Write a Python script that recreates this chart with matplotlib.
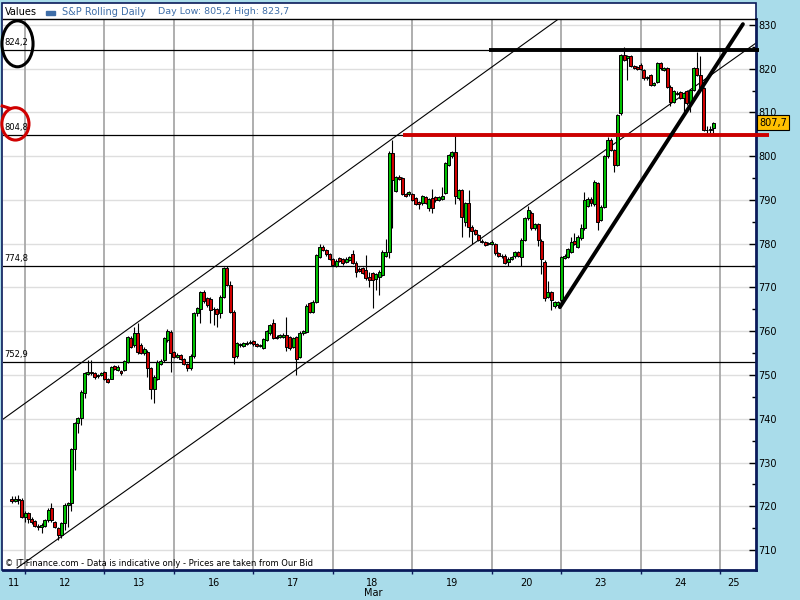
import numpy as np
import matplotlib.pyplot as plt
from matplotlib.patches import Rectangle, Ellipse

# S&P Rolling Daily, hourly candles 11 -> 24 March
# hour index of first candle (day 12 opens at hour 0)
first_hour = -4

opens = [
    # 11
    721.6, 721.3, 721.6, 721.5,
    # 12
    717.6, 718.4, 717.2, 716.6, 715.5, 715.3, 715.6, 716.8, 719.5, 716.3, 715.0, 713.4,
    716.2, 720.4, 720.7, 733.0, 739.0, 740.2, 746.0, 750.3, 750.6, 750.4, 749.8, 750.1,
    # 13
    750.6, 749.0, 749.2, 752.1, 751.2, 750.9, 751.2, 753.0, 758.5, 756.8, 759.6, 756.9,
    755.0, 755.3, 751.5, 746.7, 749.2, 752.5, 753.4, 758.0, 759.8,
    # 16
    755.2, 754.2, 754.6, 753.7, 752.5, 751.6, 754.3, 764.1, 765.0, 769.0, 767.5, 767.4,
    765.0, 765.0, 764.1, 767.9, 774.4, 770.6, 764.5, 754.3, 756.8, 756.7, 757.2, 757.3,
    # 17
    757.8, 757.0, 756.7, 756.2, 758.0, 759.5, 761.9, 758.8, 758.8, 758.8, 759.1, 758.6,
    756.4, 758.7, 754.2, 759.5, 759.8, 766.5, 764.5, 766.8, 777.0, 779.3, 778.6, 777.6,
    # 18
    776.5, 774.9, 776.7, 776.4, 775.8, 776.3, 777.6, 775.7, 774.3, 774.4, 774.0, 772.3,
    773.2, 771.9, 772.5, 772.9, 777.2, 778.0, 800.7, 792.1, 795.2, 795.0, 791.3, 791.3,
    # 19
    791.4, 790.4, 789.5, 789.2, 790.6, 788.1, 790.5, 790.6, 790.0, 790.2, 791.7, 798.0,
    800.0, 801.0, 790.4, 792.3, 785.0, 789.4, 783.9, 783.1, 781.9, 780.7, 780.4, 779.9,
    # 20
    780.0, 779.9, 777.8, 777.3, 777.3, 775.9, 776.5, 777.1, 778.0, 777.0, 780.9, 785.8,
    787.1, 783.5, 784.5, 780.7, 775.9, 767.9, 769.0, 765.8, 766.0,
    # 23
    767.1, 776.7, 777.0, 778.2, 780.6, 779.3, 781.2, 783.5, 788.6, 790.3, 789.0, 793.8,
    785.4, 788.5, 800.0, 803.7, 801.4, 798.0, 809.8, 823.1, 822.5, 822.9, 820.6, 820.3,
    # 24
    820.9, 819.6, 817.8, 818.6, 816.3, 817.0, 821.2, 819.7, 820.1, 815.9, 812.5, 814.5,
    814.6, 813.3, 814.8, 812.1, 815.1, 820.1, 818.6, 815.5, 806.1, 805.9, 806.4,
]
highs = [
    722.3, 722.3, 722.6, 721.9,
    718.9, 718.7, 717.5, 716.9, 715.9, 716.1, 717.1, 719.5, 720.8, 716.6, 715.3, 716.5,
    720.8, 721.0, 733.3, 739.3, 740.5, 746.5, 750.7, 753.4, 753.4, 750.7, 750.3, 750.8,
    750.9, 749.3, 752.1, 752.4, 752.2, 751.2, 753.5, 759.0, 758.9, 761.0, 761.9, 757.3,
    756.4, 755.7, 751.8, 750.0, 753.4, 753.6, 758.8, 760.6, 760.2,
    755.6, 755.0, 754.9, 754.0, 752.8, 754.7, 764.4, 765.6, 769.3, 769.5, 767.9, 767.8,
    765.5, 765.4, 768.2, 774.7, 775.0, 771.5, 764.8, 757.6, 757.3, 757.6, 757.7, 757.9,
    758.1, 757.3, 757.2, 758.5, 760.3, 761.7, 762.8, 759.1, 759.4, 759.5, 763.2, 758.9,
    758.8, 759.0, 760.0, 760.3, 766.3, 766.8, 767.1, 777.7, 780.0, 779.6, 778.9, 777.9,
    776.8, 776.4, 777.0, 776.7, 776.9, 777.2, 778.6, 776.0, 774.6, 774.7, 777.4, 773.5,
    773.5, 773.3, 773.9, 778.5, 781.0, 801.1, 803.7, 795.5, 795.6, 795.3, 791.6, 792.1,
    791.7, 790.7, 789.8, 791.1, 790.9, 790.5, 792.5, 790.9, 791.0, 793.0, 798.7, 800.6,
    801.3, 804.9, 792.6, 792.6, 789.5, 792.3, 784.2, 783.4, 782.2, 781.0, 780.7, 780.4,
    780.8, 780.2, 778.1, 777.6, 777.6, 776.9, 777.3, 778.3, 778.3, 781.2, 786.1, 788.6,
    787.4, 784.8, 784.8, 781.0, 776.2, 771.5, 769.3, 766.9, 766.9,
    777.3, 777.6, 779.0, 781.5, 782.5, 781.9, 784.5, 791.9, 790.6, 790.6, 794.5, 794.1,
    788.8, 800.3, 804.5, 804.1, 801.7, 809.7, 823.4, 825.0, 823.1, 823.2, 820.9, 820.6,
    821.2, 819.9, 818.4, 818.9, 817.0, 821.5, 821.5, 820.4, 820.4, 816.2, 815.1, 815.0,
    814.9, 814.7, 815.1, 815.4, 820.4, 823.9, 823.0, 815.8, 806.8, 806.8, 807.9,
]
lows = [
    720.7, 721.0, 720.6, 717.3,
    716.4, 716.2, 716.0, 715.2, 714.5, 714.0, 715.3, 716.5, 716.5, 715.0, 712.3, 712.8,
    714.5, 715.3, 719.0, 728.3, 736.7, 738.5, 744.7, 750.0, 750.1, 749.2, 749.4, 749.8,
    748.8, 748.2, 749.0, 751.1, 750.9, 750.0, 750.9, 752.7, 756.2, 756.5, 754.9, 754.7,
    754.6, 749.6, 744.5, 743.6, 748.8, 752.2, 753.0, 757.6, 750.8,
    753.9, 753.9, 753.4, 752.2, 751.0, 751.2, 754.0, 763.5, 762.0, 766.5, 765.5, 762.0,
    761.5, 761.0, 763.0, 767.6, 770.3, 764.2, 752.6, 754.0, 756.5, 756.4, 756.9, 757.0,
    756.7, 756.4, 756.4, 755.9, 757.7, 759.2, 758.2, 758.2, 758.5, 758.5, 755.5, 755.8,
    756.1, 750.0, 753.9, 759.2, 759.5, 764.1, 764.2, 766.5, 776.7, 778.3, 777.3, 776.2,
    774.8, 774.6, 775.8, 775.2, 775.5, 776.0, 775.4, 772.4, 773.5, 773.1, 771.8, 770.0,
    765.3, 769.5, 768.3, 772.6, 776.9, 776.7, 783.6, 791.8, 794.5, 791.1, 790.7, 791.0,
    789.7, 788.8, 788.0, 788.9, 789.1, 787.5, 787.0, 789.6, 789.7, 789.9, 791.4, 797.7,
    799.7, 789.0, 790.1, 781.6, 784.0, 781.5, 779.9, 781.9, 780.6, 780.1, 779.5, 779.6,
    779.7, 777.5, 777.0, 776.8, 775.4, 775.0, 776.2, 776.8, 777.0, 774.8, 780.6, 785.5,
    783.2, 783.2, 779.5, 773.0, 767.0, 767.6, 764.9, 765.4, 765.5,
    766.8, 776.4, 776.7, 777.9, 779.7, 779.0, 780.9, 783.2, 788.3, 788.7, 788.7, 783.1,
    785.1, 788.2, 799.7, 801.1, 796.5, 797.7, 809.5, 821.7, 817.4, 820.3, 819.9, 819.7,
    819.6, 817.5, 817.5, 816.0, 816.0, 816.7, 819.8, 819.4, 815.6, 811.5, 812.2, 813.9,
    813.0, 809.8, 811.8, 810.0, 814.8, 818.3, 815.2, 805.7, 805.2, 805.2, 805.4,
]
closes = [
    721.3, 721.6, 721.5, 717.6,
    718.4, 717.2, 716.4, 715.5, 715.3, 715.8, 716.8, 719.2, 716.8, 715.3, 713.4, 716.2,
    720.3, 720.7, 733.0, 739.0, 740.2, 746.2, 750.4, 750.6, 750.5, 749.6, 750.1, 750.5,
    749.0, 748.5, 751.8, 751.4, 751.9, 750.4, 753.2, 758.7, 756.5, 759.6, 755.2, 755.0,
    756.0, 751.5, 746.8, 749.6, 753.0, 753.3, 758.4, 760.0, 755.0,
    754.2, 754.6, 753.7, 752.5, 751.6, 754.3, 764.1, 765.3, 769.0, 767.0, 766.0, 764.9,
    765.2, 763.9, 767.9, 774.4, 770.6, 764.5, 754.2, 757.3, 757.0, 757.3, 757.4, 757.6,
    757.0, 756.7, 756.9, 758.2, 760.0, 761.4, 758.5, 758.5, 759.1, 759.2, 756.4, 756.1,
    758.5, 753.6, 759.7, 760.0, 765.8, 764.4, 766.6, 777.4, 779.3, 778.6, 777.6, 776.5,
    775.1, 776.1, 776.1, 775.5, 776.6, 776.9, 775.7, 773.6, 773.8, 773.4, 772.1, 771.8,
    771.7, 773.0, 773.6, 778.2, 778.0, 800.8, 794.6, 795.2, 794.8, 791.4, 791.0, 791.8,
    790.0, 789.1, 789.0, 790.8, 789.4, 790.2, 788.2, 789.9, 790.7, 791.0, 798.4, 800.3,
    801.0, 790.8, 792.3, 786.2, 789.2, 783.9, 782.8, 782.2, 780.9, 780.4, 779.8, 780.1,
    780.5, 777.8, 777.3, 777.1, 775.7, 776.6, 777.0, 778.0, 777.3, 780.9, 785.8, 787.6,
    783.5, 784.5, 780.9, 776.4, 767.5, 769.0, 767.1, 766.6, 766.8,
    777.0, 777.3, 778.7, 780.5, 780.0, 781.6, 783.5, 790.0, 790.3, 789.4, 794.2, 785.0,
    788.5, 800.0, 803.7, 801.4, 798.0, 809.4, 823.1, 822.0, 822.8, 820.6, 820.2, 820.0,
    819.9, 817.8, 818.1, 816.3, 816.7, 821.2, 820.1, 820.1, 815.9, 812.5, 814.8, 814.2,
    813.3, 814.4, 812.1, 815.1, 820.1, 818.6, 815.5, 806.0, 805.9, 806.2, 807.7,
]

# hour index where each day starts, and the date labels
day_starts = [0, 24, 45, 69, 93, 117, 141, 162, 186, 210]
day_labels = ['11', '12', '13', '16', '17', '18', '19', '20', '23', '24', '25']
label_pos = [-3.4, 12, 34.5, 57, 81, 105, 129, 151.5, 174, 198, 214]

# drawn support / resistance levels
levels = [824.2, 804.8, 774.8, 752.9]
level_text = ['824,2', '804,8', '774,8', '752,9']

# channel and trend lines (hour, price)
upper_channel = ([-6.65, 161.6], [739.9, 831.6])
lower_channel = ([-2.4, 220.9], [705.9, 825.9])
trend_line = ([161.6, 216.9], [765.5, 830.2])
black_bar = ([140.2, 221.8], [824.2, 824.2])
red_bar = ([114.2, 224.8], [804.8, 804.8])
last_price = 807.7

opens, highs, lows, closes = map(np.array, (opens, highs, lows, closes))
hours = np.arange(len(closes)) + first_hour

fig = plt.figure(figsize=(8, 6), dpi=100, facecolor='#a9dcea')
panel = Rectangle((2 / 800, 30 / 600), 754 / 800, 567 / 600, transform=fig.transFigure,
                  facecolor='white', edgecolor='#0a1a5a', linewidth=1.2, zorder=0)
fig.add_artist(panel)

ax = fig.add_axes([3 / 800, 30 / 600, 753 / 800, 551 / 600])
ax.set_xlim(-6.65, 220.85)
ax.set_ylim(705.43, 831.37)
ax.set_facecolor('white')

ax.spines['left'].set_visible(False)
ax.spines['top'].set_color('black')
ax.spines['top'].set_linewidth(1)
for s in ['right', 'bottom']:
    ax.spines[s].set_color('#0a1a5a')
    ax.spines[s].set_linewidth(2)

# grid
for d in day_starts:
    ax.axvline(d, color='#a8a8a8', lw=1.3, zorder=0.5)
for p in range(710, 831, 10):
    ax.axhline(p, color='#dedede', lw=1, zorder=0.4)

# y axis on the right
ax.yaxis.tick_right()
ax.set_yticks(np.arange(710, 831, 10))
ax.set_yticks(np.arange(715, 831, 10), minor=True)
ax.tick_params(axis='y', which='major', direction='in', length=5, width=1, pad=1.5, labelsize=7)
ax.tick_params(axis='y', which='minor', direction='in', length=3, width=1)

# x axis: ticks at day starts, labels in the middle of the days
ax.set_xticks(day_starts)
ax.set_xticklabels([])
ax.set_xticks(label_pos, minor=True)
ax.set_xticklabels(day_labels, minor=True)
ax.tick_params(axis='x', which='major', direction='out', length=3, width=1, color='#0a1a5a')
ax.tick_params(axis='x', which='minor', length=0, pad=5.5, labelsize=7)

# levels
for lv, txt in zip(levels, level_text):
    ax.axhline(lv, color='black', lw=0.9, zorder=2)
    ax.text(-6.3, lv + 0.7, txt, fontsize=6, va='bottom', ha='left', zorder=5)

# channels
ax.plot(*upper_channel, color='black', lw=0.8, zorder=2)
ax.plot(*lower_channel, color='black', lw=0.8, zorder=2)

# candles
up = closes >= opens
ax.vlines(hours, lows, highs, color='black', lw=0.8, zorder=3)
body = np.maximum(np.abs(closes - opens), 0.15)
ax.bar(hours, body, bottom=np.minimum(opens, closes), width=0.9,
       color=np.where(up, '#00c000', '#d00000'), edgecolor='black', linewidth=0.7, zorder=4)

# hand drawn lines
ax.plot(*red_bar, color='#cc0000', lw=2.8, solid_capstyle='butt', clip_on=False, zorder=6)
ax.plot(*black_bar, color='black', lw=2.8, solid_capstyle='butt', clip_on=False, zorder=6)
ax.plot(*trend_line, color='black', lw=2.8, solid_capstyle='round', zorder=6)

ax.add_patch(Ellipse((-2.27, 825.7), 9.4, 10.5, fill=False, edgecolor='black', lw=2.2,
                     clip_on=False, zorder=7))
ax.add_patch(Ellipse((-2.9, 807.4), 8.2, 7.4, fill=False, edgecolor='#d00000', lw=2.2,
                     clip_on=False, zorder=7))
ax.plot([-6.9, -4.8], [811.5, 811.0], color='#d00000', lw=2.2, clip_on=False, zorder=7)

# last price tag
ax.text(1.004, last_price, '807,7', transform=ax.get_yaxis_transform(), fontsize=7,
        va='center', ha='left', zorder=8,
        bbox=dict(boxstyle='square,pad=0.25', facecolor='#ffc000', edgecolor='black', lw=0.8))

# header
fig.text(5 / 800, 1 - 12 / 600, 'Values', fontsize=7, va='center', ha='left')
fig.add_artist(Rectangle((46 / 800, 1 - 15 / 600), 9 / 800, 3.5 / 600,
                         transform=fig.transFigure, color='#3f6ea8'))
fig.text(62 / 800, 1 - 12 / 600, 'S&P Rolling Daily', fontsize=7, va='center',
         ha='left', color='#3f6ea8')
fig.text(158 / 800, 1 - 12 / 600, 'Day Low: 805,2 High: 823,7', fontsize=6.8,
         va='center', ha='left', color='#3f6ea8')

fig.text(5 / 800, 1 - 563 / 600,
         '\u00a9 IT-Finance.com - Data is indicative only - Prices are taken from Our Bid',
         fontsize=6, va='center', ha='left')
fig.text(373 / 800, 1 - 593 / 600, 'Mar', fontsize=7, va='center', ha='center')

fig.savefig('out.png', dpi=100, facecolor=fig.get_facecolor())
